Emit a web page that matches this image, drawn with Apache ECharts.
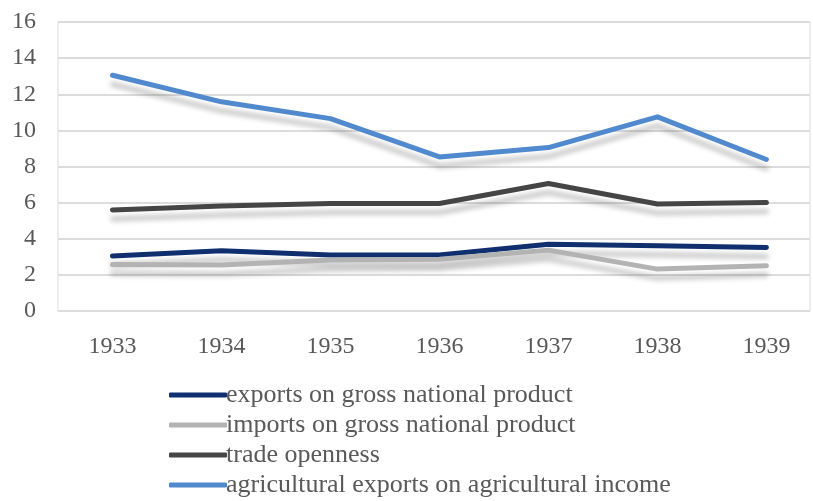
<!DOCTYPE html>
<html>
<head>
<meta charset="utf-8">
<script src="https://cdn.jsdelivr.net/npm/echarts@6/dist/echarts.min.js"></script>
<style>html,body{margin:0;padding:0;background:#fff}#c{width:813px;height:501px}</style>
</head>
<body>
<div id="c"></div>
<script>
var years = [1933, 1934, 1935, 1936, 1937, 1938, 1939];
var yTicks = [0, 2, 4, 6, 8, 10, 12, 14, 16];
var seriesNames = [
  'exports on gross national product',
  'imports on gross national product',
  'trade openness',
  'agricultural exports on agricultural income'
];
var exportsGNP = [3.04, 3.34, 3.10, 3.10, 3.69, 3.61, 3.52];
var importsGNP = [2.58, 2.54, 2.82, 2.86, 3.37, 2.32, 2.51];
var tradeOpenness = [5.59, 5.81, 5.95, 5.95, 7.06, 5.92, 6.01];
var agriExports = [13.05, 11.58, 10.65, 8.53, 9.05, 10.75, 8.39];

var colors = ['#0f2f6e', '#b3b3b3', '#454545', '#5089cd'];
var FONT = '"Liberation Serif", "Times New Roman", serif';

function pairs(vals) { return years.map(function (y, i) { return [y, vals[i]]; }); }
var allVals = [exportsGNP, importsGNP, tradeOpenness, agriExports];

var chart = echarts.init(document.getElementById('c'), null, { renderer: 'canvas' });
chart.setOption({
  animation: false,
  backgroundColor: '#ffffff',
  grid: { left: 58, right: 3, top: 22, bottom: 190, show: true, borderColor: '#dcdcdc', borderWidth: 1, containLabel: false },
  xAxis: {
    type: 'value', min: 1932.5, max: 1939.4,
    axisLine: { show: false }, axisTick: { show: false }, splitLine: { show: false },
    axisLabel: {
      customValues: years, margin: 24,
      formatter: function (v) { return String(v); },
      color: '#595959', fontFamily: FONT, fontSize: 24
    }
  },
  yAxis: {
    type: 'value', min: yTicks[0], max: yTicks[yTicks.length - 1], interval: 2,
    axisLine: { show: false }, axisTick: { show: false },
    splitLine: { lineStyle: { color: '#dcdcdc', width: 2 } },
    axisLabel: { margin: 22, color: '#595959', fontFamily: FONT, fontSize: 24 }
  },
  legend: {
    orient: 'vertical', left: 164, top: 377, height: 130, width: 640,
    icon: 'roundRect', itemWidth: 58, itemHeight: 5, itemGap: 4,
    textStyle: { color: '#595959', fontFamily: FONT, fontSize: 26, lineHeight: 26, padding: [0, 0, 0, -6] },
    data: seriesNames
  },
  series: seriesNames.map(function (n, i) {
    return {
      name: n, type: 'line', data: pairs(allVals[i]), symbol: 'none',
      itemStyle: { color: colors[i] },
      lineStyle: { color: colors[i], width: 5, cap: 'round', join: 'round',
        shadowColor: 'rgba(0,0,0,0.22)', shadowBlur: 5, shadowOffsetY: 9 }
    };
  })
});
</script>
</body>
</html>
